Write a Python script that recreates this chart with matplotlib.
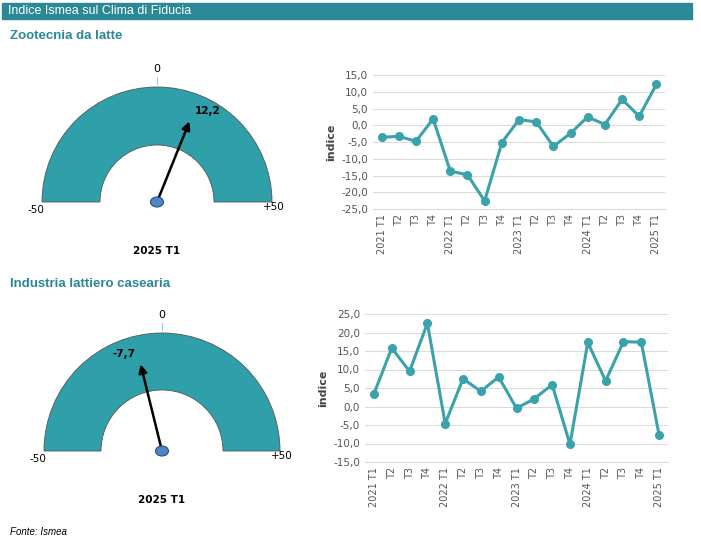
import numpy as np
from matplotlib import pyplot as plt
from matplotlib.patches import Wedge, Rectangle, Ellipse

quarters = ["2021 T1", "T2", "T3", "T4", "2022 T1", "T2", "T3", "T4",
            "2023 T1", "T2", "T3", "T4", "2024 T1", "T2", "T3", "T4", "2025 T1"]
zootecnia = [-3.6, -3.3, -4.8, 1.9, -13.7, -14.8, -22.6, -5.2, 1.7, 1.0,
             -6.3, -2.4, 2.5, 0.2, 7.7, 2.7, 12.2]
industria = [3.4, 15.8, 9.5, 22.5, -4.6, 7.5, 4.1, 8.0, -0.5, 2.1, 5.9,
             -10.2, 17.3, 6.9, 17.5, 17.4, -7.7]

teal = "#2f9faa"
line_c = "#3aa2aa"
W, H = 701, 547

fig = plt.figure(figsize=(W / 100, H / 100), dpi=100)
bg = fig.add_axes([0, 0, 1, 1])
bg.set_xlim(0, W)
bg.set_ylim(H, 0)
bg.axis("off")

# title bar
bg.add_patch(Rectangle((2, 3), 690, 16, color="#2b8896"))
bg.text(8, 11, "Indice Ismea sul Clima di Fiducia", color="white", fontsize=9,
        va="center", family="Liberation Sans")
bg.text(10, 36, "Zootecnia da latte", color="#2b8896", fontsize=9.5,
        fontweight="bold", va="center", family="Liberation Sans")
bg.text(10, 284, "Industria lattiero casearia", color="#2b8896", fontsize=9.5,
        fontweight="bold", va="center", family="Liberation Sans")
bg.text(10, 532, "Fonte: Ismea", fontsize=7, style="italic", va="center",
        family="Liberation Sans")


def gauge(cx, cy, r_out, r_in, value):
    bg.add_patch(Wedge((cx, cy), r_out, 180, 360, width=r_out - r_in,
                       facecolor=teal, edgecolor="#555555", lw=0.6))
    ang = np.radians(90 - value / 50 * 90)
    L = r_out * 0.78
    tx, ty = cx + L * np.cos(ang), cy - L * np.sin(ang)
    bg.annotate("", xy=(tx, ty), xytext=(cx, cy),
                arrowprops=dict(arrowstyle="-|>", color="black", lw=1.8,
                                mutation_scale=12))
    bg.add_patch(Ellipse((cx, cy), 13, 10, facecolor="#4e86c6",
                         edgecolor="#2a4f7a", lw=0.8, zorder=5))
    lab = f"{value:.1f}".replace(".", ",")
    bg.text(tx + (4 if value > 0 else -4), ty - 8, lab, fontsize=7.5,
            fontweight="bold", ha="left" if value > 0 else "right", va="center")
    bg.text(cx, cy - r_out - 18, "0", fontsize=8, ha="center", va="center")
    bg.plot([cx, cx], [cy - r_out - 10, cy - r_out - 3], color="#9fc9dd", lw=0.8)
    bg.text(cx - r_out - 6, cy + 8, "-50", fontsize=7.5, ha="center", va="center")
    bg.text(cx + r_out + 2, cy + 5, "+50", fontsize=7.5, ha="center", va="center")
    bg.text(cx, cy + 49, "2025 T1", fontsize=7.5, fontweight="bold",
            ha="center", va="center")


gauge(157, 202, 115, 57, zootecnia[-1])
gauge(162, 451, 118, 61, industria[-1])


def line_chart(rect, values, ylim, step):
    ax = fig.add_axes(rect)
    x = np.arange(len(values))
    ax.plot(x, values, color=line_c, lw=2.2, marker="o", ms=5.5)
    ax.set_xlim(-0.5, len(values) - 0.5)
    ax.set_ylim(*ylim)
    ticks = np.arange(ylim[0], ylim[1] + 0.1, step)
    ax.set_yticks(ticks)
    ax.set_yticklabels([f"{t:.1f}".replace(".", ",") for t in ticks],
                       fontsize=7.5, color="#555555")
    ax.set_xticks(x)
    ax.set_xticklabels(quarters, rotation=90, fontsize=7, color="#555555")
    ax.grid(axis="y", color="#d9d9d9", lw=0.7)
    ax.set_axisbelow(True)
    for s in ["top", "right", "left"]:
        ax.spines[s].set_visible(False)
    ax.spines["bottom"].set_color("#d9d9d9")
    ax.tick_params(length=0)
    ax.set_ylabel("indice", fontsize=8, fontweight="bold", color="#444444")
    return ax


line_chart([373 / W, 1 - 209 / H, 292 / W, 134 / H], zootecnia, (-25, 15), 5)
line_chart([365 / W, 1 - 462 / H, 303 / W, 148 / H], industria, (-15, 25), 5)

fig.savefig("out.png", dpi=100)
